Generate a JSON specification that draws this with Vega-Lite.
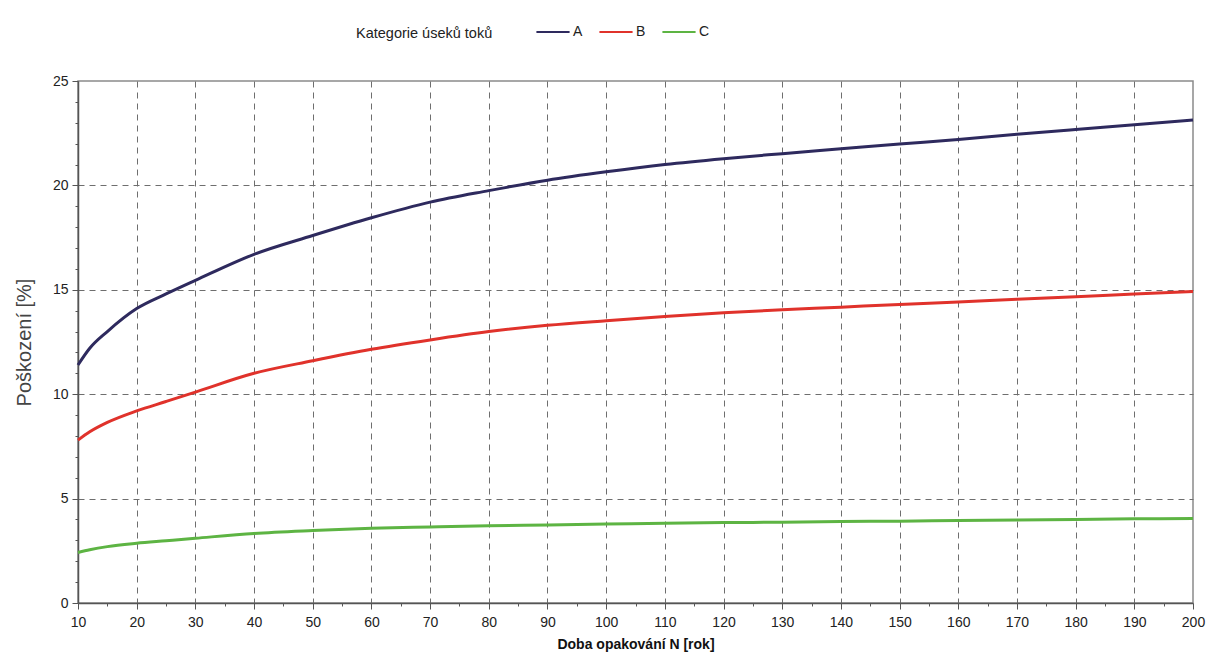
{
  "$schema": "https://vega.github.io/schema/vega-lite/v6.json",
  "autosize": "none",
  "width": 1115,
  "height": 522,
  "padding": {"left": 78, "top": 81, "right": 16, "bottom": 65},
  "background": "white",
  "config": {
    "font": "Liberation Sans",
    "view": {"stroke": "#8a8a8a", "strokeWidth": 1.5},
    "axis": {
      "labelFont": "Liberation Sans",
      "labelFontSize": 14,
      "labelColor": "#222",
      "domainColor": "#555",
      "domainWidth": 1.5,
      "tickColor": "#555",
      "gridColor": "#6e6e6e",
      "gridDash": [6, 5],
      "gridWidth": 1
    }
  },
  "data": {
    "values": [
      {"N": 10, "cat": "A", "v": 11.4}, {"N": 12, "cat": "A", "v": 12.2}, {"N": 15, "cat": "A", "v": 13.0},
      {"N": 20, "cat": "A", "v": 14.1}, {"N": 25, "cat": "A", "v": 14.8}, {"N": 30, "cat": "A", "v": 15.45},
      {"N": 40, "cat": "A", "v": 16.7}, {"N": 50, "cat": "A", "v": 17.6}, {"N": 60, "cat": "A", "v": 18.45},
      {"N": 70, "cat": "A", "v": 19.2}, {"N": 80, "cat": "A", "v": 19.75}, {"N": 90, "cat": "A", "v": 20.25},
      {"N": 100, "cat": "A", "v": 20.65}, {"N": 110, "cat": "A", "v": 21.0}, {"N": 120, "cat": "A", "v": 21.28},
      {"N": 130, "cat": "A", "v": 21.52}, {"N": 140, "cat": "A", "v": 21.75}, {"N": 150, "cat": "A", "v": 21.98},
      {"N": 160, "cat": "A", "v": 22.2}, {"N": 170, "cat": "A", "v": 22.45}, {"N": 180, "cat": "A", "v": 22.68},
      {"N": 190, "cat": "A", "v": 22.9}, {"N": 200, "cat": "A", "v": 23.13},
      {"N": 10, "cat": "B", "v": 7.8}, {"N": 12, "cat": "B", "v": 8.2}, {"N": 15, "cat": "B", "v": 8.65},
      {"N": 20, "cat": "B", "v": 9.2}, {"N": 25, "cat": "B", "v": 9.65}, {"N": 30, "cat": "B", "v": 10.1},
      {"N": 40, "cat": "B", "v": 11.0}, {"N": 50, "cat": "B", "v": 11.6}, {"N": 60, "cat": "B", "v": 12.15},
      {"N": 70, "cat": "B", "v": 12.6}, {"N": 80, "cat": "B", "v": 13.0}, {"N": 90, "cat": "B", "v": 13.3},
      {"N": 100, "cat": "B", "v": 13.52}, {"N": 110, "cat": "B", "v": 13.72}, {"N": 120, "cat": "B", "v": 13.9},
      {"N": 130, "cat": "B", "v": 14.04}, {"N": 140, "cat": "B", "v": 14.17}, {"N": 150, "cat": "B", "v": 14.3},
      {"N": 160, "cat": "B", "v": 14.42}, {"N": 170, "cat": "B", "v": 14.55}, {"N": 180, "cat": "B", "v": 14.67},
      {"N": 190, "cat": "B", "v": 14.8}, {"N": 200, "cat": "B", "v": 14.92},
      {"N": 10, "cat": "C", "v": 2.42}, {"N": 12, "cat": "C", "v": 2.55}, {"N": 15, "cat": "C", "v": 2.7},
      {"N": 20, "cat": "C", "v": 2.86}, {"N": 25, "cat": "C", "v": 2.98}, {"N": 30, "cat": "C", "v": 3.1},
      {"N": 40, "cat": "C", "v": 3.33}, {"N": 50, "cat": "C", "v": 3.47}, {"N": 60, "cat": "C", "v": 3.58},
      {"N": 70, "cat": "C", "v": 3.64}, {"N": 80, "cat": "C", "v": 3.7}, {"N": 90, "cat": "C", "v": 3.74},
      {"N": 100, "cat": "C", "v": 3.78}, {"N": 110, "cat": "C", "v": 3.82}, {"N": 120, "cat": "C", "v": 3.85},
      {"N": 130, "cat": "C", "v": 3.87}, {"N": 140, "cat": "C", "v": 3.9}, {"N": 150, "cat": "C", "v": 3.92},
      {"N": 160, "cat": "C", "v": 3.95}, {"N": 170, "cat": "C", "v": 3.98}, {"N": 180, "cat": "C", "v": 4.0},
      {"N": 190, "cat": "C", "v": 4.03}, {"N": 200, "cat": "C", "v": 4.05}
    ]
  },
  "mark": {"type": "line", "strokeWidth": 3, "interpolate": "monotone"},
  "encoding": {
    "x": {
      "field": "N",
      "type": "quantitative",
      "scale": {"domain": [10, 200], "nice": false, "zero": false},
      "axis": {
        "title": "Doba opakování N [rok]",
        "titleFont": "Liberation Sans",
        "titleFontSize": 14,
        "titleFontWeight": "bold",
        "titleColor": "#111",
        "titlePadding": 8,
        "values": [10, 15, 20, 25, 30, 35, 40, 45, 50, 55, 60, 65, 70, 75, 80, 85, 90, 95, 100, 105, 110, 115, 120, 125, 130, 135, 140, 145, 150, 155, 160, 165, 170, 175, 180, 185, 190, 195, 200],
        "labelExpr": "datum.value % 10 === 0 ? datum.label : ''",
        "labelPadding": 6,
        "labelFlush": false,
        "tickSize": {"condition": {"test": "datum.value % 10 === 0", "value": 6}, "value": 3},
        "grid": true,
        "gridOpacity": {"condition": {"test": "datum.value % 10 === 0 && datum.value > 10 && datum.value < 200", "value": 1}, "value": 0}
      }
    },
    "y": {
      "field": "v",
      "type": "quantitative",
      "scale": {"domain": [0, 25], "nice": false},
      "axis": {
        "title": "Poškození [%]",
        "titleFont": "Liberation Sans",
        "titleFontSize": 20,
        "titleFontWeight": "normal",
        "titleColor": "#444",
        "titlePadding": 18,
        "values": [0, 1, 2, 3, 4, 5, 6, 7, 8, 9, 10, 11, 12, 13, 14, 15, 16, 17, 18, 19, 20, 21, 22, 23, 24, 25],
        "labelExpr": "datum.value % 5 === 0 ? datum.label : ''",
        "labelPadding": 4,
        "tickSize": {"condition": {"test": "datum.value % 5 === 0", "value": 6}, "value": 3},
        "grid": true,
        "gridOpacity": {"condition": {"test": "datum.value % 5 === 0 && datum.value > 0 && datum.value < 25", "value": 1}, "value": 0}
      }
    },
    "color": {
      "field": "cat",
      "type": "nominal",
      "scale": {"domain": ["A", "B", "C"], "range": ["#2e2a5e", "#e0322b", "#5db443"]},
      "legend": {
        "title": "Kategorie úseků toků",
        "orient": "none",
        "legendX": 275,
        "legendY": -70,
        "direction": "horizontal",
        "titleOrient": "left",
        "titleFont": "Liberation Sans",
        "titleFontSize": 14.5,
        "titleFontWeight": "normal",
        "titleColor": "#222",
        "titlePadding": 42,
        "titleAnchor": "middle",
        "titleBaseline": "top",
        "symbolType": "stroke",
        "symbolSize": 1100,
        "symbolStrokeWidth": 2,
        "labelFont": "Liberation Sans",
        "labelFontSize": 14,
        "labelColor": "#222",
        "labelOffset": 2,
        "columnPadding": 12,
        "padding": 3
      }
    }
  }
}
